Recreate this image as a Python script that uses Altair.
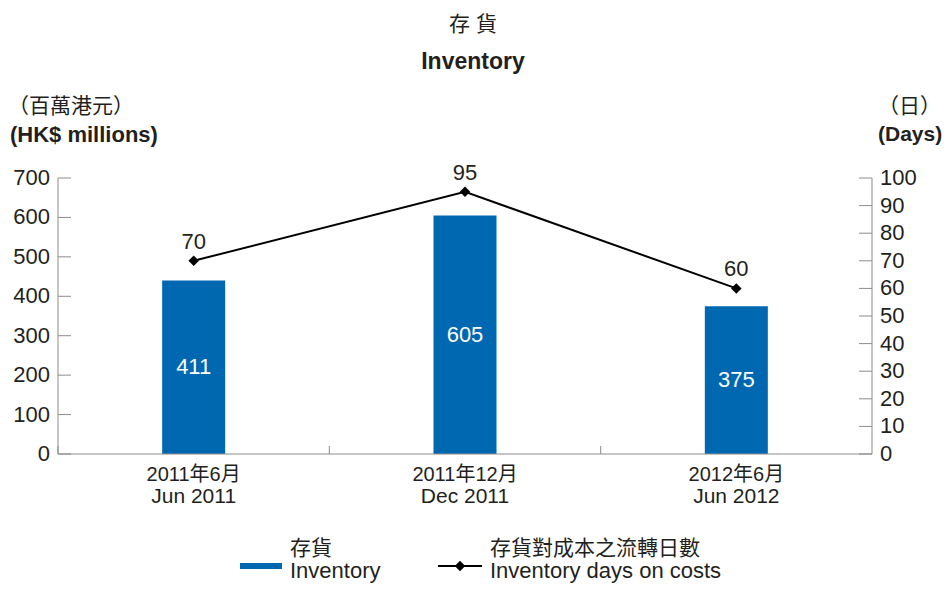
import altair as alt
import pandas as pd

# ---------------- data ----------------
categories = ["Jun 2011", "Dec 2011", "Jun 2012"]
categories_cn = ["2011年6月", "2011年12月", "2012年6月"]
inventory_bar = [440, 605, 375]          # bar heights as drawn in the picture
inventory_labels = ["411", "605", "375"]  # printed values
days = [70, 95, 60]
left_ticks = [0, 100, 200, 300, 400, 500, 600, 700]
right_ticks = [0, 10, 20, 30, 40, 50, 60, 70, 80, 90, 100]

BLUE = "#0067B1"
TXT = "#231F20"
AX = "#8C8C8C"
FONT = "Liberation Sans, Noto Sans CJK TC"
W, H = 814, 276

df = pd.DataFrame({"cat": categories, "cn": categories_cn, "bar": inventory_bar,
                   "lab": inventory_labels, "days": days})
lt = pd.DataFrame({"v": left_ticks})
rt = pd.DataFrame({"v": right_ticks})
one = pd.DataFrame({"k": [0]})

xs = alt.Scale(domain=categories, paddingInner=0, paddingOuter=0)
ls = alt.Scale(domain=[0, 700], nice=False, zero=True)
rs = alt.Scale(domain=[0, 100], nice=False, zero=True)

X = lambda **kw: alt.X("cat:N", scale=xs, sort=categories, axis=None, **kw)

bars = alt.Chart(df).mark_bar(size=63, color=BLUE).encode(
    x=X(), y=alt.Y("bar:Q", scale=ls, axis=None),
)

bar_labels = alt.Chart(df).transform_calculate(mid="datum.bar / 2").mark_text(
    color="white", fontSize=22, font=FONT, baseline="middle").encode(
    x=X(), y=alt.Y("mid:Q", scale=ls, axis=None), text="lab:N",
)

# axis lines
def rule(x, y, x2=None, y2=None):
    enc = {"x": alt.value(x), "y": alt.value(y)}
    if x2 is not None:
        enc["x2"] = alt.value(x2)
    if y2 is not None:
        enc["y2"] = alt.value(y2)
    return alt.Chart(one).mark_rule(color=AX, strokeWidth=1).encode(**enc)

axis_lines = [rule(0, 0, y2=H), rule(W, 0, y2=H), rule(0, H, x2=W)]

left_tick_marks = alt.Chart(lt).mark_rule(color=AX, strokeWidth=1).encode(
    y=alt.Y("v:Q", scale=ls, axis=None), x=alt.value(0), x2=alt.value(13),
)
left_tick_labels = alt.Chart(lt).mark_text(
    align="right", baseline="middle", fontSize=22, font=FONT, color=TXT).encode(
    y=alt.Y("v:Q", scale=ls, axis=None), x=alt.value(-8), text="v:Q",
)

x_tick_marks = alt.Chart(df).mark_rule(color=AX, strokeWidth=1).encode(
    x=X(bandPosition=0), y=alt.value(H - 8), y2=alt.value(H),
)
x_labels_cn = alt.Chart(df).mark_text(
    baseline="middle", fontSize=20, font=FONT, color=TXT).encode(
    x=X(), y=alt.value(H + 21), text="cn:N")
x_labels_en = alt.Chart(df).mark_text(
    baseline="middle", fontSize=21, font=FONT, color=TXT).encode(
    x=X(), y=alt.value(H + 43), text="cat:N")


def txt(s, x, y, size=22, bold=False, align="left", baseline="middle"):
    return alt.Chart(one).mark_text(
        fontSize=size, fontWeight="bold" if bold else "normal", align=align,
        baseline=baseline, font=FONT, color=TXT).encode(
        x=alt.value(x), y=alt.value(y), text=alt.value(s))


annotations = [
    txt("存 貨", 415, -153, size=21, align="center"),
    txt("Inventory", 415, -116, size=23, bold=True, align="center"),
    txt("（百萬港元）", -50, -71, size=21),
    txt("(HK$ millions)", -48, -43, size=22, bold=True),
    txt("（日）", 820, -71, size=21),
    txt("(Days)", 820, -43, size=21, bold=True),
    txt("存貨", 232, 371, size=21),
    txt("Inventory", 232, 400, size=22, baseline="alphabetic"),
    txt("存貨對成本之流轉日數", 432, 371, size=21),
    txt("Inventory days on costs", 432, 400, size=22, baseline="alphabetic"),
]

legend_swatch = alt.Chart(one).mark_rect(color=BLUE).encode(
    x=alt.value(182), x2=alt.value(224), y=alt.value(385), y2=alt.value(391))
legend_line = alt.Chart(one).mark_rule(color="black", strokeWidth=2).encode(
    x=alt.value(380), x2=alt.value(424), y=alt.value(388))
legend_point = alt.Chart(one).mark_point(shape="diamond", filled=True, size=110,
                                         color="black", opacity=1).encode(
    x=alt.value(402), y=alt.value(388))

left = alt.layer(bars, bar_labels, *axis_lines, left_tick_marks, left_tick_labels,
                 x_tick_marks, x_labels_cn, x_labels_en, legend_swatch, legend_line,
                 legend_point, *annotations)

line = alt.Chart(df).mark_line(color="black", strokeWidth=2).encode(
    x=X(), y=alt.Y("days:Q", scale=rs, axis=None),
)
points = alt.Chart(df).mark_point(shape="diamond", filled=True, size=110,
                                  color="black", opacity=1).encode(
    x=X(), y=alt.Y("days:Q", scale=rs, axis=None),
)
point_labels = alt.Chart(df).mark_text(dy=-19, fontSize=22, font=FONT, color=TXT,
                                       baseline="middle").encode(
    x=X(), y=alt.Y("days:Q", scale=rs, axis=None), text="days:Q",
)
right_tick_marks = alt.Chart(rt).mark_rule(color=AX, strokeWidth=1).encode(
    y=alt.Y("v:Q", scale=rs, axis=None), x=alt.value(W - 13), x2=alt.value(W),
)
right_tick_labels = alt.Chart(rt).mark_text(
    align="left", baseline="middle", fontSize=22, font=FONT, color=TXT).encode(
    y=alt.Y("v:Q", scale=rs, axis=None), x=alt.value(W + 8), text="v:Q",
)

right = alt.layer(line, points, point_labels, right_tick_marks, right_tick_labels)

chart = alt.layer(left, right).resolve_scale(y="independent").properties(
    width=W, height=H,
    background="white",
    autosize=alt.AutoSizeParams(type="none"),
    padding={"left": 50, "top": 170, "right": 71, "bottom": 129},
).configure_view(strokeWidth=0)

chart.save("out.html", embed_options={"renderer": "svg", "actions": False})
